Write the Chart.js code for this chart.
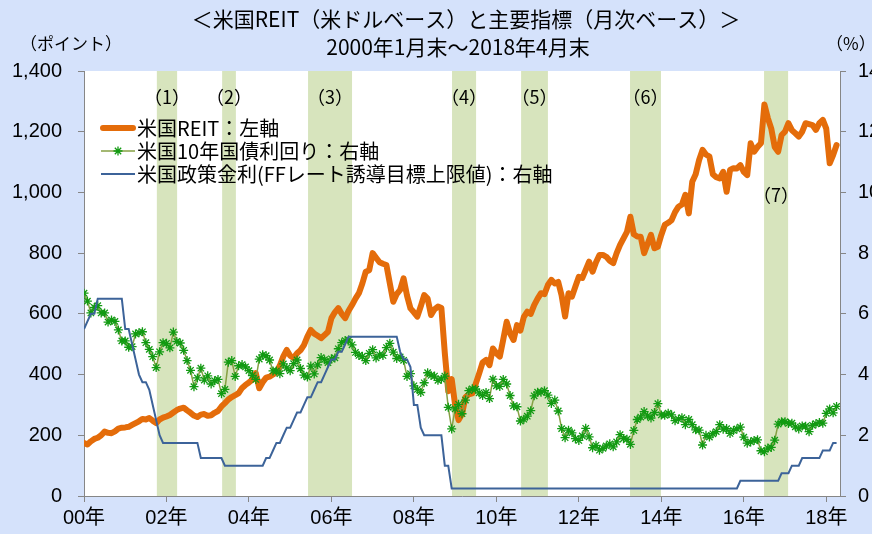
<!DOCTYPE html>
<html lang="ja">
<head>
<meta charset="utf-8">
<script src="https://cdn.jsdelivr.net/npm/chart.js@4.4.1/dist/chart.umd.min.js"></script>
<style>
  html, body { margin: 0; padding: 0; background: #d5e2fb; overflow: hidden; }
  #wrap { width: 872px; height: 534px; }
</style>
</head>
<body>
<div id="wrap"><canvas id="chart" width="872" height="534"></canvas></div>
<script>
/* ── Data (monthly, Jan 2000 = month 0 … Apr 2018 = month 219) ── */
const TITLE_1 = '＜米国REIT（米ドルベース）と主要指標（月次ベース）＞';
const TITLE_2 = '2000年1月末～2018年4月末';
const UNIT_L  = '（ポイント）';
const UNIT_R  = '（%）';

const X_TICKS  = [0, 24, 48, 72, 96, 120, 144, 168, 192, 216];
const X_LABELS = ['00年', '02年', '04年', '06年', '08年', '10年', '12年', '14年', '16年', '18年'];

const SERIES_NAMES = [
  '米国REIT：左軸',
  '米国10年国債利回り：右軸',
  '米国政策金利(FFレート誘導目標上限値)：右軸',
];

const REIT = [
  175, 170, 180, 188, 192, 200, 212, 208, 207, 213, 222, 225,        // 2000
  226, 228, 234, 240, 246, 254, 252, 257, 248, 240, 252, 258,        // 2001
  262, 267, 275, 283, 288, 291, 282, 274, 265, 260, 268, 270,        // 2002
  264, 266, 274, 280, 295, 306, 318, 326, 332, 339, 356, 366,        // 2003
  374, 383, 405, 355, 375, 390, 393, 400, 408, 430, 460, 481,        // 2004
  462, 455, 470, 480, 497, 525, 547, 535, 528, 520, 530, 541,        // 2005
  586, 605, 619, 600, 586, 610, 629, 650, 668, 700, 739, 744,        // 2006
  800, 785, 770, 765, 761, 700, 640, 665, 679, 717, 660, 618,        // 2007
  605, 591, 625, 662, 650, 596, 615, 624, 619, 470, 345, 385,        // 2008
  300, 250, 270, 325, 335, 338, 370, 404, 440, 448, 431, 486,        // 2009
  470, 459, 515, 574, 535, 514, 563, 545, 590, 607, 600, 629,        // 2010
  650, 668, 665, 695, 712, 700, 705, 660, 591, 668, 657, 690,        // 2011
  722, 718, 745, 772, 739, 770, 794, 794, 788, 775, 767, 800,        // 2012
  827, 849, 870, 920, 862, 855, 854, 800, 830, 860, 816, 821,        // 2013
  860, 893, 900, 909, 935, 953, 960, 992, 931, 1035, 1060, 1107,     // 2014
  1140, 1125, 1118, 1060, 1050, 1046, 1068, 1002, 1074, 1080, 1079, 1090, // 2015
  1068, 1057, 1162, 1134, 1150, 1162, 1290, 1245, 1210, 1150, 1134, 1189, // 2016
  1200, 1228, 1205, 1195, 1184, 1200, 1228, 1225, 1222, 1206, 1228, 1239, // 2017
  1210, 1096, 1123, 1156,                                             // 2018
];

const UST10Y = [
  6.68, 6.42, 6.03, 6.21, 6.27, 6.03, 6.03, 5.73, 5.80, 5.75, 5.47, 5.11,
  5.11, 4.90, 4.92, 5.34, 5.38, 5.41, 5.05, 4.83, 4.59, 4.23, 4.75, 5.05,
  5.03, 4.88, 5.40, 5.09, 5.04, 4.80, 4.46, 4.14, 3.60, 3.89, 4.21, 3.82,
  3.96, 3.69, 3.80, 3.84, 3.37, 3.51, 4.41, 4.46, 3.94, 4.29, 4.33, 4.25,
  4.13, 3.97, 3.84, 4.51, 4.65, 4.62, 4.48, 4.12, 4.12, 4.03, 4.35, 4.22,
  4.13, 4.36, 4.48, 4.20, 3.98, 3.92, 4.28, 4.02, 4.32, 4.56, 4.49, 4.39,
  4.52, 4.55, 4.85, 5.05, 5.12, 5.14, 4.98, 4.73, 4.63, 4.60, 4.46, 4.70,
  4.82, 4.55, 4.65, 4.63, 4.89, 5.03, 4.74, 4.53, 4.58, 4.47, 3.94, 4.03,
  3.63, 3.51, 3.41, 3.73, 4.06, 3.97, 3.95, 3.81, 3.85, 3.95, 2.92, 2.21,
  2.87, 3.02, 2.71, 3.16, 3.47, 3.53, 3.52, 3.40, 3.31, 3.41, 3.21, 3.85,
  3.63, 3.61, 3.84, 3.69, 3.31, 2.97, 2.94, 2.47, 2.53, 2.63, 2.81, 3.30,
  3.42, 3.42, 3.47, 3.32, 3.05, 3.16, 2.80, 2.22, 1.92, 2.17, 2.08, 1.89,
  1.83, 1.98, 2.23, 1.95, 1.59, 1.67, 1.51, 1.57, 1.65, 1.72, 1.62, 1.78,
  2.02, 1.89, 1.87, 1.70, 2.16, 2.52, 2.60, 2.78, 2.64, 2.57, 2.75, 3.04,
  2.67, 2.66, 2.73, 2.67, 2.48, 2.53, 2.58, 2.35, 2.52, 2.35, 2.18, 2.17,
  1.68, 2.00, 1.94, 2.05, 2.12, 2.35, 2.20, 2.22, 2.06, 2.16, 2.21, 2.27,
  1.94, 1.74, 1.78, 1.83, 1.85, 1.49, 1.46, 1.58, 1.60, 1.84, 2.37, 2.45,
  2.45, 2.39, 2.40, 2.28, 2.21, 2.31, 2.30, 2.12, 2.33, 2.38, 2.42, 2.40,
  2.72, 2.87, 2.74, 2.95,
];

const FF_UPPER = [
  5.5, 5.75, 6, 6, 6.5, 6.5, 6.5, 6.5, 6.5, 6.5, 6.5, 6.5,
  5.5, 5.5, 5, 4.5, 4, 3.75, 3.75, 3.5, 3, 2.5, 2, 1.75,
  1.75, 1.75, 1.75, 1.75, 1.75, 1.75, 1.75, 1.75, 1.75, 1.75, 1.25, 1.25,
  1.25, 1.25, 1.25, 1.25, 1.25, 1, 1, 1, 1, 1, 1, 1,
  1, 1, 1, 1, 1, 1.25, 1.25, 1.5, 1.75, 1.75, 2, 2.25,
  2.25, 2.5, 2.75, 2.75, 3, 3.25, 3.25, 3.5, 3.75, 3.75, 4, 4.25,
  4.5, 4.5, 4.75, 4.75, 5, 5.25, 5.25, 5.25, 5.25, 5.25, 5.25, 5.25,
  5.25, 5.25, 5.25, 5.25, 5.25, 5.25, 5.25, 5.25, 4.75, 4.5, 4.5, 4.25,
  3, 3, 2.25, 2, 2, 2, 2, 2, 2, 1, 1, 0.25,
  0.25, 0.25, 0.25, 0.25, 0.25, 0.25, 0.25, 0.25, 0.25, 0.25, 0.25, 0.25,
  0.25, 0.25, 0.25, 0.25, 0.25, 0.25, 0.25, 0.25, 0.25, 0.25, 0.25, 0.25,
  0.25, 0.25, 0.25, 0.25, 0.25, 0.25, 0.25, 0.25, 0.25, 0.25, 0.25, 0.25,
  0.25, 0.25, 0.25, 0.25, 0.25, 0.25, 0.25, 0.25, 0.25, 0.25, 0.25, 0.25,
  0.25, 0.25, 0.25, 0.25, 0.25, 0.25, 0.25, 0.25, 0.25, 0.25, 0.25, 0.25,
  0.25, 0.25, 0.25, 0.25, 0.25, 0.25, 0.25, 0.25, 0.25, 0.25, 0.25, 0.25,
  0.25, 0.25, 0.25, 0.25, 0.25, 0.25, 0.25, 0.25, 0.25, 0.25, 0.25, 0.5,
  0.5, 0.5, 0.5, 0.5, 0.5, 0.5, 0.5, 0.5, 0.5, 0.5, 0.5, 0.75,
  0.75, 0.75, 1, 1, 1, 1.25, 1.25, 1.25, 1.25, 1.25, 1.25, 1.5,
  1.5, 1.5, 1.75, 1.75,
];

/* shaded periods (1)-(7), in months since Jan 2000 */
const BAND_LABELS = ['（1）', '（2）', '（3）', '（4）', '（5）', '（6）', '（7）'];
const BAND_START  = [21.2, 40.2, 65.2, 107.1, 127.2, 158.9, 197.9];
const BAND_END    = [27.1, 44.2, 78.0, 114.1, 135.0, 167.9, 204.9];

/* ── Styles ── */
const BG     = '#d5e2fb';
const BAND   = '#d7e4bd';
const AXIS   = '#868686';
const ORANGE = '#e46c0a';
const OLIVE  = '#86a044';
const GREEN  = '#129a12';
const BLUE   = '#3c6399';
const JP     = "'Noto Sans CJK JP', sans-serif";
const LAT    = "'Liberation Sans', 'Noto Sans CJK JP', sans-serif";

const toXY = arr => arr.map((v, i) => ({ x: i, y: v }));

/* ── Background, bands, legend, titles ── */
const decor = {
  id: 'decor',
  beforeDraw(chart) {
    const { ctx, chartArea: a } = chart;
    ctx.save();
    ctx.fillStyle = BG;
    ctx.fillRect(0, 0, chart.width, chart.height);
    ctx.fillStyle = '#fff';
    ctx.fillRect(a.left, a.top, a.right - a.left, a.bottom - a.top);
    ctx.restore();
  },
  beforeDatasetsDraw(chart) {
    const { ctx, chartArea: a, scales } = chart;
    ctx.save();
    ctx.fillStyle = BAND;
    BAND_START.forEach((s, i) => {
      const x1 = scales.x.getPixelForValue(s);
      const x2 = scales.x.getPixelForValue(BAND_END[i]);
      ctx.fillRect(x1, a.top, x2 - x1, a.bottom - a.top);
    });
    ctx.fillStyle    = '#000';
    ctx.font         = '18px ' + JP;
    ctx.textAlign    = 'center';
    ctx.textBaseline = 'middle';
    BAND_LABELS.forEach((t, i) => {
      const x = scales.x.getPixelForValue((BAND_START[i] + BAND_END[i]) / 2);
      const y = scales.y.getPixelForValue(i === 6 ? 990 : 1314);
      ctx.fillText(t, x, y);
    });
    ctx.restore();
  },
  afterDatasetsDraw(chart) {
    const { ctx } = chart;
    const rows = [128, 151, 174];
    ctx.save();
    ctx.lineCap = 'round';
    // REIT
    ctx.strokeStyle = ORANGE; ctx.lineWidth = 6;
    ctx.beginPath(); ctx.moveTo(103, rows[0]); ctx.lineTo(133, rows[0]); ctx.stroke();
    // 10y
    ctx.lineCap = 'butt';
    ctx.strokeStyle = OLIVE; ctx.lineWidth = 1.5;
    ctx.beginPath(); ctx.moveTo(101, rows[1]); ctx.lineTo(135, rows[1]); ctx.stroke();
    ctx.strokeStyle = GREEN; ctx.lineWidth = 1.3;
    Chart.helpers.drawPoint(ctx, { pointStyle: 'star', radius: 4.5, rotation: 0, borderWidth: 1.3 }, 118, rows[1]);
    // FF
    ctx.strokeStyle = BLUE; ctx.lineWidth = 2;
    ctx.beginPath(); ctx.moveTo(101, rows[2]); ctx.lineTo(135, rows[2]); ctx.stroke();

    ctx.fillStyle    = '#000';
    ctx.font         = '20px ' + JP;
    ctx.textAlign    = 'left';
    ctx.textBaseline = 'middle';
    SERIES_NAMES.forEach((t, i) => ctx.fillText(t, 137, rows[i]));
    ctx.restore();
  },
  afterDraw(chart) {
    const { ctx } = chart;
    ctx.save();
    ctx.fillStyle    = '#000';
    ctx.textBaseline = 'middle';
    ctx.textAlign    = 'center';
    ctx.font = '21px ' + JP;
    ctx.fillText(TITLE_1, 466, 19);
    ctx.fillText(TITLE_2, 458, 47);
    ctx.font = '17px ' + JP;
    ctx.fillText(UNIT_L, 71, 44);
    ctx.textAlign = 'left';
    ctx.fillText(UNIT_R, 826, 44);
    ctx.restore();
  },
};

/* ── Chart ── */
new Chart(document.getElementById('chart'), {
  type: 'line',
  plugins: [decor],
  data: {
    datasets: [
      {
        label:           SERIES_NAMES[0],
        data:            toXY(REIT),
        yAxisID:         'y',
        borderColor:     ORANGE,
        borderWidth:     6,
        borderCapStyle:  'round',
        borderJoinStyle: 'round',
        pointRadius:     0,
        order:           3,
      },
      {
        label:                SERIES_NAMES[1],
        data:                 toXY(UST10Y),
        yAxisID:              'y2',
        borderColor:          OLIVE,
        borderWidth:          1.5,
        pointStyle:           'star',
        pointRadius:          4.5,
        pointBorderWidth:     1.3,
        pointBorderColor:     GREEN,
        pointBackgroundColor: GREEN,
        order:                2,
      },
      {
        label:       SERIES_NAMES[2],
        data:        toXY(FF_UPPER),
        yAxisID:     'y2',
        borderColor: BLUE,
        borderWidth: 2,
        pointRadius: 0,
        order:       1,
      },
    ],
  },
  options: {
    responsive: false,
    animation:  false,
    layout: { padding: { top: 71, left: 0, right: 0, bottom: 0 } },
    plugins: {
      legend:  { display: false },
      tooltip: { enabled: false },
    },
    scales: {
      x: {
        type: 'linear',
        min: 0,
        max: 220,
        afterBuildTicks: axis => { axis.ticks = X_TICKS.map(v => ({ value: v })); },
        afterFit: axis => { axis.height = 38; },
        border: { color: AXIS, width: 1 },
        grid:   { drawOnChartArea: false, color: AXIS, tickLength: 6 },
        ticks: {
          autoSkip: false,
          maxRotation: 0,
          padding: 4,
          color: '#000',
          font: { family: LAT, size: 20 },
          callback: (v, i) => X_LABELS[i],
        },
      },
      y: {
        position: 'left',
        min: 0,
        max: 1400,
        afterFit: axis => { axis.width = 84; },
        border: { color: AXIS, width: 1 },
        grid:   { drawOnChartArea: false, color: AXIS, tickLength: 6 },
        ticks: {
          stepSize: 200,
          padding: 16,
          color: '#000',
          font: { family: LAT, size: 20 },
          callback: v => v.toLocaleString('en-US'),
        },
      },
      y2: {
        position: 'right',
        min: 0,
        max: 14,
        afterFit: axis => { axis.width = 32; },
        border: { color: AXIS, width: 1 },
        grid:   { drawOnChartArea: false, color: AXIS, tickLength: 6 },
        ticks: {
          stepSize: 2,
          padding: 12,
          color: '#000',
          font: { family: LAT, size: 20 },
        },
      },
    },
  },
});
</script>
</body>
</html>
